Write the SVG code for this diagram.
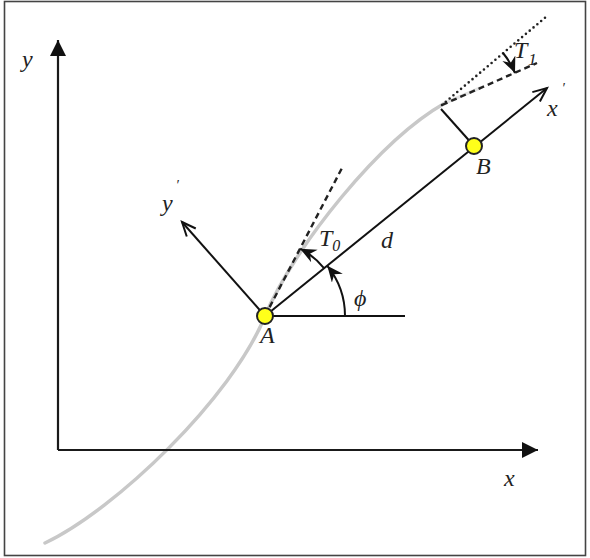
<svg xmlns="http://www.w3.org/2000/svg" width="590" height="558" viewBox="0 0 590 558">
<style>
.lbl{font-family:"Liberation Serif","Times New Roman",serif;font-style:italic;fill:#222;font-size:24px}
.pr{font-size:14px;fill:#222}
.ax{stroke:#1a1a1a;stroke-width:2.2;fill:none}
.ln{stroke:#111;stroke-width:2;fill:none}
.node{fill:#ffff1a;stroke:#222;stroke-width:2}
.dash{stroke:#222;stroke-width:2.4;fill:none;stroke-dasharray:6 4}
.dot{stroke:#222;stroke-width:2.6;fill:none;stroke-dasharray:0 5;stroke-linecap:round}
</style>
<defs>
<marker id="axhead" markerUnits="userSpaceOnUse" markerWidth="18" markerHeight="16" refX="16" refY="8" orient="auto">
<path d="M0,0 L16,8 L0,16 z" fill="#111"/>
</marker>
<marker id="open" markerUnits="userSpaceOnUse" markerWidth="18" markerHeight="16" refX="15" refY="7" orient="auto">
<path d="M1,1 L15,7 L1,13" fill="none" stroke="#111" stroke-width="2"/>
</marker>
<marker id="barb" markerUnits="userSpaceOnUse" markerWidth="20" markerHeight="16" refX="16" refY="7" orient="auto">
<path d="M0,0 L16,7 L0,14 L5,7 z" fill="#111"/>
</marker>
</defs>
<rect x="4.5" y="1.5" width="581" height="554" fill="#fff" stroke="#444" stroke-width="1.6"/>
<g id="curve">
<path d="M45,543 C115,510 232,398 265,316 C295,245 380,140 445,103" fill="none" stroke="#c8c8c8" stroke-width="3.5" stroke-linecap="round"/>
<path d="M445,103 L480,88" fill="none" stroke="#e4e4e4" stroke-width="3" stroke-linecap="round"/>
</g>
<g id="axes">
<path class="ax" d="M58,450 L58,40" marker-end="url(#axhead)"/>
<path class="ax" d="M58,450 L538,450" marker-end="url(#axhead)"/>
<text class="lbl" x="22" y="67">y</text>
<text class="lbl" x="504" y="486">x</text>
</g>
<g id="connectors">
<path class="ln" d="M265,316 L547,88" marker-end="url(#open)"/>
<path class="ln" d="M265,316 L182,222" marker-end="url(#open)"/>
<path class="ln" d="M265,316 L405,316" stroke-width="1.6"/>
<path class="ln" d="M441,109 L474,146"/>
<path class="dash" d="M265,316 L342,168"/>
<path class="dash" d="M442,105 L537,63"/>
<path class="dot" d="M442,105 L547,16"/>
<path class="ln" d="M345,316 A80,80 0 0 0 327.3,265.8" stroke-width="1.8" marker-end="url(#barb)"/>
<path class="ln" d="M324.2,268.3 A76,76 0 0 0 300.2,248.7" stroke-width="1.8" marker-end="url(#barb)"/>
<path class="ln" d="M503,53 A80,80 0 0 1 515,73" stroke-width="1.8" marker-end="url(#barb)"/>
</g>
<g id="labels">
<text class="lbl" x="162" y="211">y<tspan class="pr" dx="3" dy="-21">′</tspan></text>
<text class="lbl" x="547" y="116">x<tspan class="pr" dx="4" dy="-23">′</tspan></text>
<text class="lbl" x="381" y="248">d</text>
<text class="lbl" x="319" y="246">T<tspan font-size="16" dy="5">0</tspan></text>
<text class="lbl" x="354" y="306">ϕ</text>
<text class="lbl" x="514" y="58" font-size="26">T<tspan font-size="17" dx="1" dy="7">1</tspan></text>
</g>
<g id="node-A">
<circle class="node" cx="265" cy="316" r="8"/>
<text class="lbl" x="260" y="343">A</text>
</g>
<g id="node-B">
<circle class="node" cx="474" cy="146" r="8"/>
<text class="lbl" x="476" y="174">B</text>
</g>
</svg>
